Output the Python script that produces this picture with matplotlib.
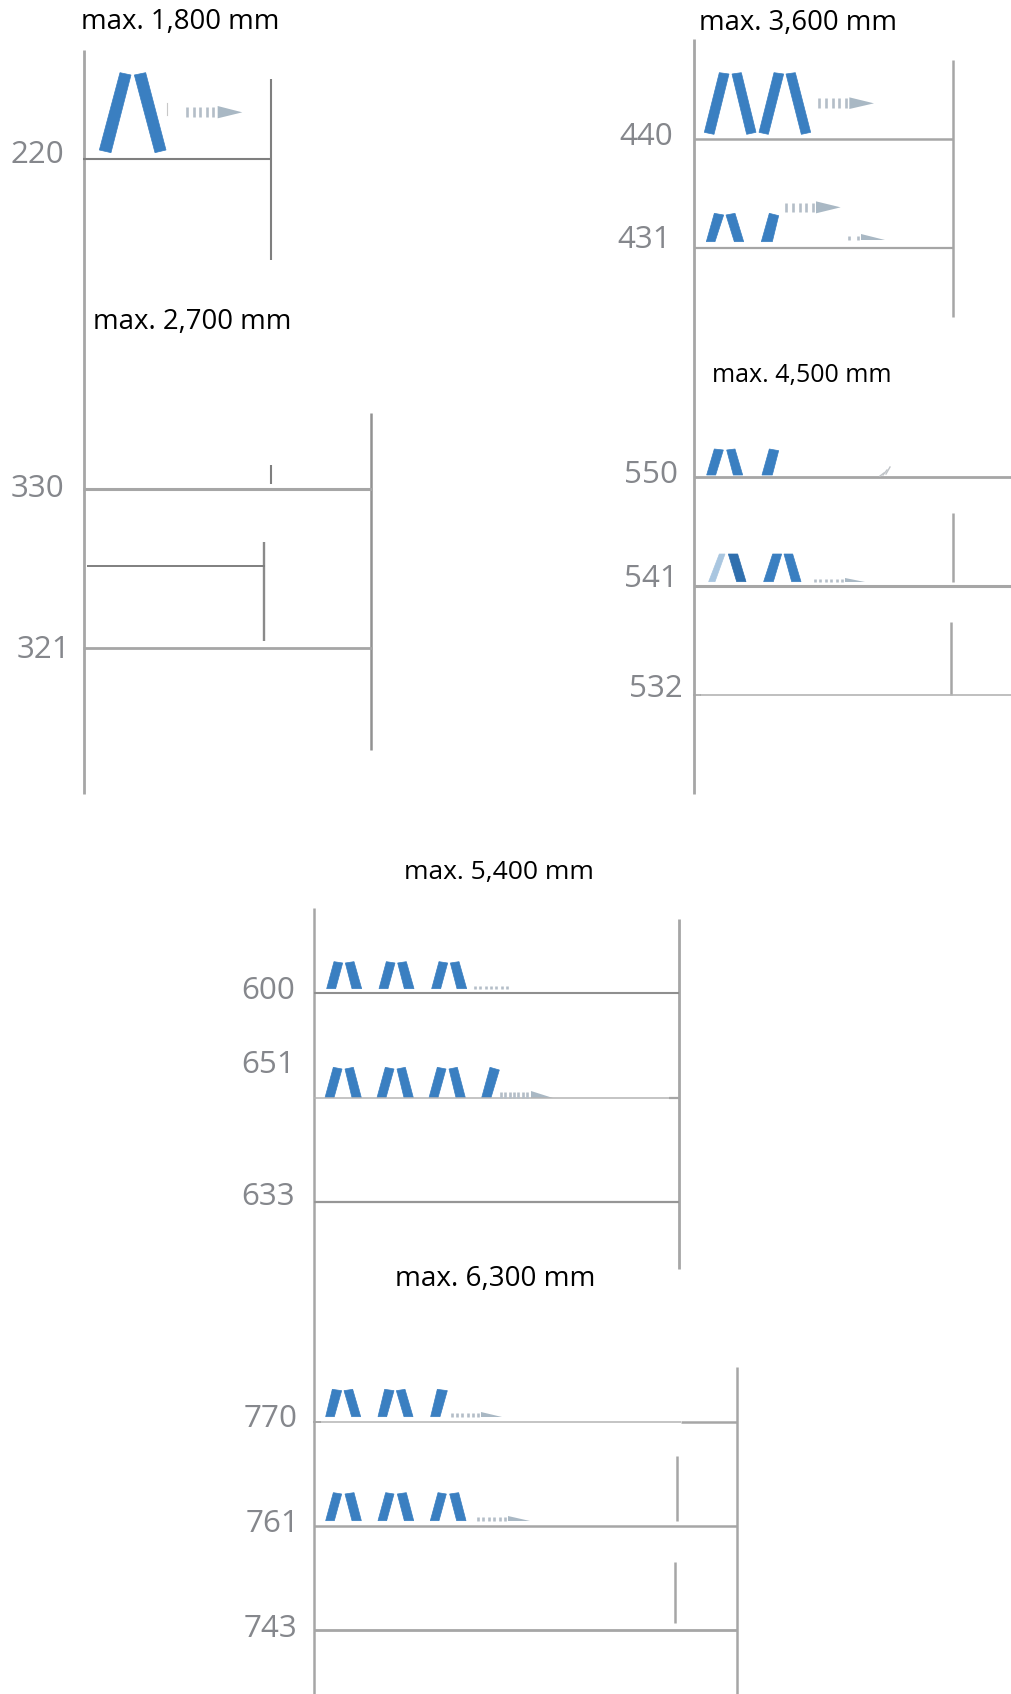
import matplotlib
matplotlib.use('Agg')
import matplotlib.pyplot as plt
from matplotlib.patches import Polygon

plt.rcParams['font.family'] = ['Open Sans', 'DejaVu Sans']

BLUE = '#3a7fc1'
PALE_BLUE = '#a9c6e0'
DARK_BLUE = '#2f6fae'
GREY_TEXT = '#85878c'
ARROW = '#a9b8c4'
DASH = '#b4bec8'
LINE = '#a6a6a6'
LINE_DARK = '#7f7f7f'

# titles: text, left x, baseline y, size
title_texts = ['max. 1,800 mm', 'max. 2,700 mm', 'max. 3,600 mm',
               'max. 4,500 mm', 'max. 5,400 mm', 'max. 6,300 mm']
title_x = [81, 93, 699, 712, 404, 395]
title_y = [29, 329, 30, 382, 879, 1286]
title_size = [19.9, 19.9, 19.8, 18.0, 19.0, 20.1]

# height labels next to the shelves
label_texts = ['220', '330', '321', '440', '431', '550', '541', '532',
               '600', '651', '633', '770', '761', '743']
label_x = [11, 11, 17, 619, 617, 624, 624, 629, 241, 241, 241, 244, 246, 244]
label_y = [163, 497, 658, 145, 248, 483, 587, 697, 999, 1073, 1205, 1427, 1532, 1637]

# uprights: x, top, bottom, colour, width
uprights = [
    (84, 50, 794, LINE, 2.0), (271, 79, 260, LINE_DARK, 1.5),
    (371, 413, 750, '#929292', 1.8), (271, 465, 484, LINE_DARK, 1.5), (264, 542, 641, '#8a8a8a', 1.7),
    (694, 39, 794, LINE, 2.0), (953, 60, 317, LINE, 1.8),
    (953, 513, 582, LINE, 1.8), (951, 622, 695, LINE, 1.8),
    (314, 908, 1694, LINE, 1.8), (679, 919, 1269, LINE, 2.0),
    (737, 1367, 1694, LINE, 1.8), (677, 1456, 1521, LINE, 1.8), (675, 1562, 1623, LINE, 1.8),
]

# shelves: y, x from, x to, colour, width
shelves = [
    (159, 83, 272, LINE_DARK, 1.5),
    (489.5, 83, 372, LINE, 2.2), (566, 87, 265, LINE_DARK, 1.4), (648.5, 83, 372, LINE, 2.0),
    (139, 694, 953, LINE, 1.8), (248, 694, 953, LINE, 1.6),
    (477, 694, 1011, LINE, 2.0), (586, 694, 1011, LINE, 2.2), (695, 700, 1011, '#b4b4b4', 1.2),
    (993, 314, 679, '#8f8f8f', 1.5), (1098, 314, 669, '#b4b4b4', 1.1), (1098, 669, 679, LINE, 1.6),
    (1202.5, 314, 679, '#969696', 1.6),
    (1422, 320, 681, '#c4c4c4', 1.4), (1422, 681, 737, LINE, 1.8),
    (1526, 314, 737, LINE, 1.8), (1630, 314, 737, LINE, 2.0),
]


def crop(x0, y0, pts):
    return [(x0 + px / 3, y0 + py / 3) for px, py in pts]


books = [
    # 1,800
    crop(0, 0, [(360, 218), (393, 225), (333, 458), (298, 450)]),
    crop(0, 0, [(403, 225), (437, 218), (498, 450), (465, 458)]),
    # 3,600
    crop(600, 0, [(358, 218), (387, 222), (342, 403), (313, 397)]),
    crop(600, 0, [(396, 222), (424, 218), (468, 397), (440, 403)]),
    crop(600, 0, [(522, 218), (551, 222), (505, 403), (477, 397)]),
    crop(600, 0, [(558, 222), (586, 218), (632, 397), (604, 403)]),
    crop(600, 0, [(343, 640), (371, 645), (345, 725), (319, 725)]),
    crop(600, 0, [(378, 645), (405, 640), (431, 725), (403, 725)]),
    crop(600, 0, [(508, 640), (536, 647), (517, 725), (484, 725)]),
    # 4,500
    crop(600, 420, [(343, 87), (370, 90), (347, 165), (320, 165)]),
    crop(600, 420, [(380, 90), (405, 87), (428, 165), (400, 165)]),
    crop(600, 420, [(508, 87), (536, 92), (517, 165), (486, 165)]),
    crop(600, 420, [(518, 402), (545, 402), (520, 485), (491, 485)]),
    crop(600, 420, [(552, 402), (578, 402), (603, 485), (575, 485)]),
    # 5,400 top
    crop(230, 930, [(312, 95), (338, 99), (317, 176), (290, 176)]),
    crop(230, 930, [(346, 99), (372, 95), (395, 176), (366, 176)]),
    crop(230, 930, [(469, 95), (495, 99), (474, 176), (447, 176)]),
    crop(230, 930, [(503, 99), (529, 95), (552, 176), (523, 176)]),
    crop(230, 930, [(627, 95), (653, 99), (632, 176), (605, 176)]),
    crop(230, 930, [(661, 99), (687, 95), (710, 176), (681, 176)]),
    # 5,400 middle
    crop(230, 930, [(310, 412), (336, 417), (312, 503), (285, 503)]),
    crop(230, 930, [(345, 417), (370, 412), (394, 503), (366, 503)]),
    crop(230, 930, [(466, 412), (492, 417), (468, 503), (441, 503)]),
    crop(230, 930, [(501, 417), (526, 412), (550, 503), (522, 503)]),
    crop(230, 930, [(622, 412), (648, 417), (624, 503), (597, 503)]),
    crop(230, 930, [(657, 417), (682, 412), (706, 503), (678, 503)]),
    crop(230, 930, [(780, 412), (808, 420), (783, 503), (755, 503)]),
    # 6,300 top
    crop(230, 1360, [(307, 88), (335, 92), (313, 170), (287, 170)]),
    crop(230, 1360, [(342, 92), (368, 88), (392, 170), (365, 170)]),
    crop(230, 1360, [(464, 88), (492, 92), (470, 170), (444, 170)]),
    crop(230, 1360, [(499, 92), (525, 88), (549, 170), (522, 170)]),
    crop(230, 1360, [(622, 88), (652, 92), (630, 170), (602, 170)]),
    # 6,300 middle
    crop(230, 1360, [(310, 398), (335, 402), (313, 482), (287, 482)]),
    crop(230, 1360, [(345, 402), (372, 398), (394, 482), (366, 482)]),
    crop(230, 1360, [(467, 398), (492, 402), (470, 482), (444, 482)]),
    crop(230, 1360, [(502, 402), (529, 398), (551, 482), (523, 482)]),
    crop(230, 1360, [(624, 398), (649, 402), (627, 482), (601, 482)]),
    crop(230, 1360, [(659, 402), (686, 398), (708, 482), (680, 482)]),
]

# the two odd strips on the 541 shelf
faded_book = crop(600, 420, [(358, 402), (375, 402), (345, 485), (326, 485)])
dark_book = crop(600, 420, [(385, 402), (413, 402), (438, 485), (410, 485)])

# arrow dashes: x from, x to, top, bottom, count
dashes = [
    (187, 213, 107, 117, 5),
    (819, 846, 98, 108, 5),
    (786, 813, 203, 212, 5),
    (849, 858, 236, 240, 2),
    (815, 842, 579, 582, 6),
    (475, 507, 986, 989, 7),
    (501, 527, 1092, 1098, 7),
    (452, 478, 1413, 1417, 6),
    (478, 505, 1517, 1521, 6),
]

# arrow heads, cut off where the shelf hides them
heads = [
    crop(0, 0, [(653, 318), (653, 355), (727, 337)]),
    crop(600, 0, [(748, 292), (748, 327), (822, 310)]),
    crop(600, 0, [(648, 604), (648, 640), (722, 622)]),
    crop(600, 0, [(782, 703), (782, 721), (855, 721)]),
    crop(600, 420, [(735, 475), (735, 485), (795, 485)]),
    crop(230, 930, [(903, 482), (903, 503), (968, 503)]),
    crop(230, 1360, [(753, 157), (753, 170), (815, 170)]),
    crop(230, 1360, [(833, 468), (833, 482), (900, 482)]),
]

# leftover of a rotated arrow above the 550 shelf
scrap_x = [882, 885, 888]
scrap_top = [473, 470, 467]
scrap_bottom = [476, 475, 474]

fig = plt.figure(figsize=(10.11, 16.94), dpi=100)
ax = fig.add_axes([0, 0, 1, 1])
ax.set_xlim(0, 1011)
ax.set_ylim(1694, 0)
ax.axis('off')

for x, top, bottom, colour, width in uprights:
    ax.plot([x, x], [top, bottom], color=colour, lw=width, solid_capstyle='butt')

for y, x0, x1, colour, width in shelves:
    ax.plot([x0, x1], [y, y], color=colour, lw=width, solid_capstyle='butt')

# short stubs at the shelf ends, small mark beside the first arrow
ax.plot([694, 700], [695, 695], color=LINE, lw=1.2)
ax.plot([314, 320], [1422, 1422], color=LINE, lw=1.4)
ax.plot([167, 167], [103, 115], color='#c8c8c8', lw=0.8)

for x, top, bottom in zip(scrap_x, scrap_top, scrap_bottom):
    ax.plot([x - 2, x + 2], [bottom, top], color='#c0c4c8', lw=1.0)

# thin edge so the strips keep the soft, fuller look of the scan
for pts in books:
    ax.add_patch(Polygon(pts, closed=True, facecolor=BLUE, edgecolor=BLUE, lw=0.5))
ax.add_patch(Polygon(faded_book, closed=True, facecolor=PALE_BLUE, edgecolor=PALE_BLUE, lw=0.5))
ax.add_patch(Polygon(dark_book, closed=True, facecolor=DARK_BLUE, edgecolor=DARK_BLUE, lw=0.5))

for x0, x1, top, bottom, count in dashes:
    step = (x1 - x0) / (count - 1)
    xs = [x0 + i * step for i in range(count)]
    ax.vlines(xs, top, bottom, color=DASH, lw=1.9)

for pts in heads:
    ax.add_patch(Polygon(pts, closed=True, facecolor=ARROW, edgecolor='none'))

for text, x, y, size in zip(title_texts, title_x, title_y, title_size):
    ax.text(x, y, text, fontsize=size, color='black', ha='left', va='baseline')

for text, x, y in zip(label_texts, label_x, label_y):
    ax.text(x, y, text, fontsize=22.6, color=GREY_TEXT, ha='left', va='baseline')

fig.savefig('out.png', dpi=100)
